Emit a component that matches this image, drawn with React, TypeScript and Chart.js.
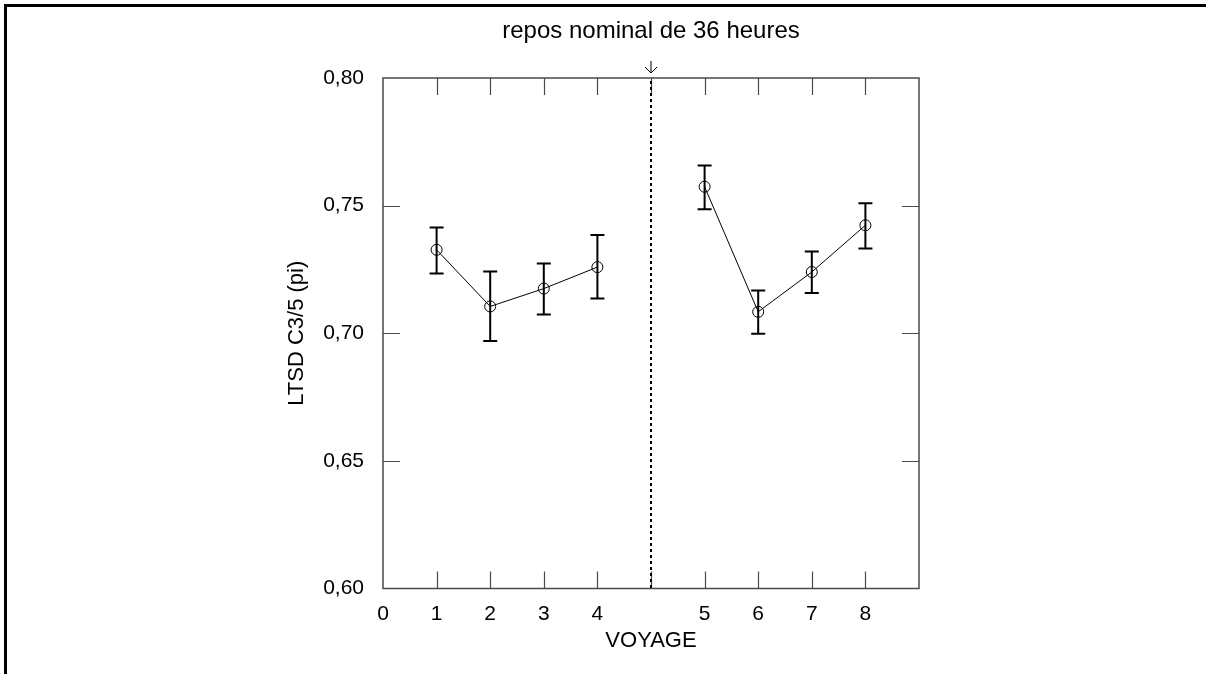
import React, { useEffect, useRef } from "react";
import { Chart, registerables } from "chart.js";

Chart.register(...registerables);

// Data
const voyages = [1, 2, 3, 4, 5, 6, 7, 8];
const means = [0.7327, 0.7105, 0.7175, 0.7259, 0.7574, 0.7084, 0.724, 0.7423];
const upper = [0.7414, 0.7242, 0.7273, 0.7385, 0.7657, 0.7167, 0.732, 0.7509];
const lower = [0.7234, 0.697, 0.7073, 0.7136, 0.7486, 0.6998, 0.7158, 0.7332];
const restPosition = 5; // axis position of the 36 h rest
const xTickLabels = ["0", "1", "2", "3", "4", "", "5", "6", "7", "8", ""];
const yTicks = [0.6, 0.65, 0.7, 0.75, 0.8];
const titleText = "repos nominal de 36 heures";
const xTitle = "VOYAGE";
const yTitle = "LTSD C3/5 (pi)";

const FONT = "'Liberation Sans', Arial, sans-serif";
const FS = 22;
const TICK_FS = 21;
const TITLE_FS = 24;

const axisPos = (v: number) => (v < restPosition ? v : v + 1);

export default function App() {
  const ref = useRef<HTMLCanvasElement | null>(null);
  useEffect(() => {
    if (!ref.current) return;
    const pts = voyages.map((v, i) => ({ x: axisPos(v), y: means[i] }));
    const before = pts.filter((p) => p.x < restPosition);
    const after = pts.filter((p) => p.x > restPosition);

    const deco = {
      id: "deco",
      afterDraw(chart: any) {
        const ctx = chart.ctx as CanvasRenderingContext2D;
        const { left, right, top, bottom } = chart.chartArea;
        const xs = chart.scales.x;
        const ys = chart.scales.y;
        ctx.save();
        // outer frame (top + left)
        ctx.strokeStyle = "#000";
        ctx.lineWidth = 3;
        ctx.beginPath();
        ctx.moveTo(1206, 5.5);
        ctx.lineTo(5.5, 5.5);
        ctx.lineTo(5.5, 674);
        ctx.stroke();

        // axis box
        ctx.strokeStyle = "#4a4a4a";
        ctx.lineWidth = 1.5;
        ctx.strokeRect(left, top, right - left, bottom - top);
        // inward ticks
        ctx.lineWidth = 1.2;
        const tl = 17;
        ctx.beginPath();
        for (let v = 1; v < 10; v++) {
          const px = Math.round(xs.getPixelForValue(v)) + 0.5;
          ctx.moveTo(px, bottom);
          ctx.lineTo(px, bottom - tl);
          ctx.moveTo(px, top);
          ctx.lineTo(px, top + tl);
        }
        yTicks.slice(1, -1).forEach((v) => {
          const py = Math.round(ys.getPixelForValue(v)) + 0.5;
          ctx.moveTo(left, py);
          ctx.lineTo(left + tl, py);
          ctx.moveTo(right, py);
          ctx.lineTo(right - tl, py);
        });
        ctx.stroke();

        // dotted rest line
        const rx = xs.getPixelForValue(restPosition);
        ctx.strokeStyle = "#000";
        ctx.lineWidth = 2;
        ctx.setLineDash([3, 3]);
        ctx.beginPath();
        ctx.moveTo(rx, top + 3);
        ctx.lineTo(rx, bottom);
        ctx.stroke();
        ctx.setLineDash([]);

        // arrow
        ctx.lineWidth = 1;
        ctx.beginPath();
        ctx.moveTo(rx, top - 17);
        ctx.lineTo(rx, top - 5);
        ctx.moveTo(rx - 6, top - 11);
        ctx.lineTo(rx, top - 5);
        ctx.lineTo(rx + 6, top - 11);
        ctx.stroke();

        // error bars
        ctx.lineWidth = 2;
        ctx.beginPath();
        voyages.forEach((v, i) => {
          const px = xs.getPixelForValue(axisPos(v));
          const pu = ys.getPixelForValue(upper[i]);
          const pl = ys.getPixelForValue(lower[i]);
          ctx.moveTo(px, pu);
          ctx.lineTo(px, pl);
          ctx.moveTo(px - 7, pu);
          ctx.lineTo(px + 7, pu);
          ctx.moveTo(px - 7, pl);
          ctx.lineTo(px + 7, pl);
        });
        ctx.stroke();

        // texts
        ctx.fillStyle = "#000";
        ctx.textAlign = "center";
        ctx.textBaseline = "middle";
        ctx.font = `${TITLE_FS}px ${FONT}`;
        ctx.fillText(titleText, rx, 31);
        ctx.font = `${FS}px ${FONT}`;
        ctx.fillText(xTitle, rx, 641);
        ctx.translate(297, (top + bottom) / 2);
        ctx.rotate(-Math.PI / 2);
        ctx.fillText(yTitle, 0, 0);
        ctx.restore();
      },
    };

    const ds = (data: any[]) => ({
      data,
      borderColor: "#000",
      borderWidth: 1,
      pointRadius: 5.5,
      pointBorderWidth: 1,
      pointBorderColor: "#000",
      pointBackgroundColor: "rgba(0,0,0,0)",
      backgroundColor: "rgba(0,0,0,0)",
      tension: 0,
      fill: false,
    });

    const chart = new Chart(ref.current, {
      type: "line",
      data: { datasets: [ds(before), ds(after)] },
      options: {
        animation: false,
        responsive: false,
        events: [],
        layout: { padding: { left: 0, right: 287, top: 78, bottom: 0 } },
        plugins: { legend: { display: false }, tooltip: { enabled: false } },
        scales: {
          x: {
            type: "linear",
            min: 0,
            max: 10,
            grid: { display: false },
            border: { display: false },
            afterFit: (s: any) => {
              s.height = 674 - 588.5;
            },
            ticks: {
              stepSize: 1,
              autoSkip: false,
              maxRotation: 0,
              padding: 5,
              color: "#000",
              font: { family: FONT, size: TICK_FS },
              callback: (v: any) => xTickLabels[Math.round(Number(v))] ?? "",
            },
          },
          y: {
            type: "linear",
            min: 0.6,
            max: 0.8,
            grid: { display: false },
            border: { display: false },
            afterFit: (s: any) => {
              s.width = 383;
            },
            afterBuildTicks: (s: any) => {
              s.ticks = yTicks.map((v) => ({ value: v }));
            },
            ticks: {
              padding: 11,
              color: "#000",
              font: { family: FONT, size: TICK_FS },
              callback: (v: any) => Number(v).toFixed(2).replace(".", ","),
            },
          },
        },
      },
      plugins: [deco],
    });
    return () => chart.destroy();
  }, []);

  return (
    <div style={{ position: "absolute", left: 0, top: 0, width: 1206, height: 674, background: "#fff" }}>
      <canvas ref={ref} width={1206} height={674} style={{ display: "block" }} />
    </div>
  );
}
